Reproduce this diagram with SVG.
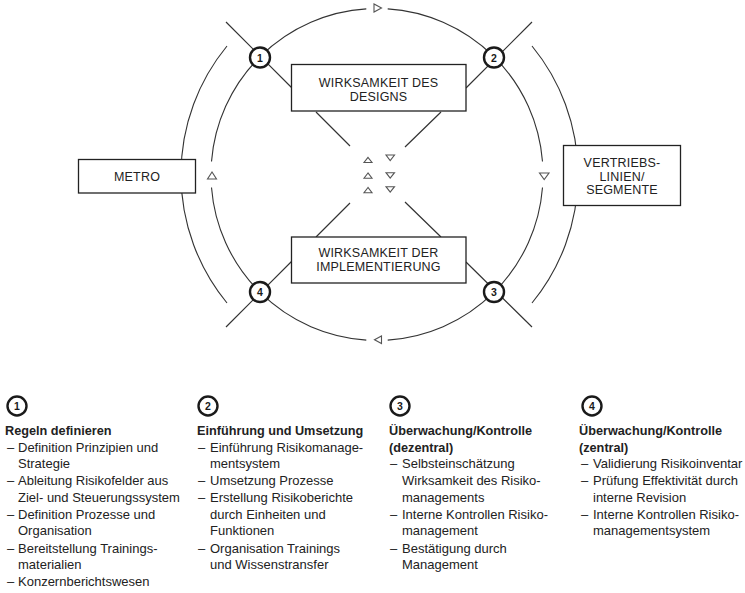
<svg xmlns="http://www.w3.org/2000/svg" width="745" height="593" viewBox="0 0 745 593">
<style>
.arc{fill:none;stroke:#333;stroke-width:1.1}
.ln{fill:none;stroke:#333;stroke-width:1.2}
.tri{fill:#fff;stroke:#555;stroke-width:1.1;stroke-linejoin:miter}
.box{fill:#fff;stroke:#222;stroke-width:1.3}
.num{fill:#fff;stroke:#1a1a1a;stroke-width:2.4}
.nt{font-family:"Liberation Sans",Arial,sans-serif;font-size:10.5px;font-weight:bold;fill:#1a1a1a;text-anchor:middle}
.bt{font-family:"Liberation Sans",Arial,sans-serif;font-size:12.5px;fill:#222;text-anchor:middle;letter-spacing:0.2px}
.lg{font-family:"Liberation Sans",Arial,sans-serif;font-size:13px;fill:#222}
.lh{font-family:"Liberation Sans",Arial,sans-serif;font-size:12.7px;font-weight:bold;fill:#222}
</style>
<rect width="745" height="593" fill="#fff"/>
<g id="connectors">
<path class="arc" d="M387.7,8.85 A166,166 0 0 1 542.5,161.5"/>
<path class="arc" d="M542.5,187.5 A166,166 0 0 1 387.7,340.15"/>
<path class="arc" d="M366.3,340.15 A166,166 0 0 1 211.5,187.5"/>
<path class="arc" d="M211.5,161.5 A166,166 0 0 1 366.3,8.85"/>
<path class="arc" d="M227,303 A202.5,202.5 0 0 1 227,46"/>
<path class="arc" d="M532,46 A202.5,202.5 0 0 1 532,303"/>
<path class="ln" d="M226,22 L292,88 M316,112 L350,146 M350,203 L316,237 M292,261 L226,327"/>
<path class="ln" d="M532,22 L466,88 M441,112 L405,147 M405,202 L441,237 M466,262 L532,327"/>
<polygon class="tri" points="374,4 374,12 381.5,8"/>
<polygon class="tri" points="539.5,173 549,173 544.2,179.5"/>
<polygon class="tri" points="374.5,339.7 381.5,336 381.5,343.5"/>
<polygon class="tri" points="212,172 207.5,179 216.5,179"/>
<polygon class="tri" points="368,157.3 364,162.5 372,162.5"/>
<polygon class="tri" points="368,173 364,178.2 372,178.2"/>
<polygon class="tri" points="368,187.5 364,192.7 372,192.7"/>
<polygon class="tri" points="386,155 394.5,155 390.2,160.5"/>
<polygon class="tri" points="386,172.7 394.5,172.7 390.2,178.2"/>
<polygon class="tri" points="386,186.7 394.5,186.7 390.2,192.2"/>
</g>
<g id="node-design">
<rect class="box" x="291.5" y="64.5" width="174.5" height="46.5"/>
<text class="bt" x="378.5" y="86.5">WIRKSAMKEIT DES</text>
<text class="bt" x="378.5" y="100.5">DESIGNS</text>
</g>
<g id="node-implementierung">
<rect class="box" x="291.5" y="237" width="174.5" height="46"/>
<text class="bt" x="378.5" y="256.5">WIRKSAMKEIT DER</text>
<text class="bt" x="378.5" y="270.5">IMPLEMENTIERUNG</text>
</g>
<g id="node-metro">
<rect class="box" x="78.5" y="159.5" width="117" height="33.5"/>
<text class="bt" x="137" y="180.5">METRO</text>
</g>
<g id="node-vertrieb">
<rect class="box" x="563.5" y="145.5" width="117" height="60"/>
<text class="bt" x="622" y="167">VERTRIEBS-</text>
<text class="bt" x="622" y="180.5">LINIEN/</text>
<text class="bt" x="622" y="194">SEGMENTE</text>
</g>
<g id="node-1"><circle class="num" cx="260" cy="57.5" r="10"/><text class="nt" x="260" y="61.5">1</text></g>
<g id="node-2"><circle class="num" cx="494" cy="57.5" r="10"/><text class="nt" x="494" y="61.5">2</text></g>
<g id="node-3"><circle class="num" cx="494" cy="292" r="10"/><text class="nt" x="494" y="296">3</text></g>
<g id="node-4"><circle class="num" cx="260" cy="292" r="10"/><text class="nt" x="260" y="296">4</text></g>
<g id="legend-1">
<circle class="num" cx="17" cy="406" r="9.5" stroke-width="2"/><text class="nt" x="17" y="410">1</text>
<text class="lh" x="5" y="434.5">Regeln definieren</text>
<text class="lg" x="7" y="451.5">–</text><text class="lg" x="18" y="451.5">Definition Prinzipien und</text>
<text class="lg" x="18" y="468">Strategie</text>
<text class="lg" x="7" y="485">–</text><text class="lg" x="18" y="485">Ableitung Risikofelder aus</text>
<text class="lg" x="18" y="501.8">Ziel- und Steuerungssystem</text>
<text class="lg" x="7" y="518.5">–</text><text class="lg" x="18" y="518.5">Definition Prozesse und</text>
<text class="lg" x="18" y="535.3">Organisation</text>
<text class="lg" x="7" y="552.5">–</text><text class="lg" x="18" y="552.5">Bereitstellung Trainings-</text>
<text class="lg" x="18" y="569">materialien</text>
<text class="lg" x="7" y="586">–</text><text class="lg" x="18" y="586">Konzernberichtswesen</text>
</g>
<g id="legend-2">
<circle class="num" cx="208" cy="406" r="9.5" stroke-width="2"/><text class="nt" x="208" y="410">2</text>
<text class="lh" x="197" y="434.5">Einführung und Umsetzung</text>
<text class="lg" x="198" y="451.5">–</text><text class="lg" x="210" y="451.5">Einführung Risikomanage-</text>
<text class="lg" x="210" y="468">mentsystem</text>
<text class="lg" x="198" y="485">–</text><text class="lg" x="210" y="485">Umsetzung Prozesse</text>
<text class="lg" x="198" y="501.8">–</text><text class="lg" x="210" y="501.8">Erstellung Risikoberichte</text>
<text class="lg" x="210" y="518.5">durch Einheiten und</text>
<text class="lg" x="210" y="535.3">Funktionen</text>
<text class="lg" x="198" y="552.5">–</text><text class="lg" x="210" y="552.5">Organisation Trainings</text>
<text class="lg" x="210" y="569">und Wissenstransfer</text>
</g>
<g id="legend-3">
<circle class="num" cx="400" cy="406" r="9.5" stroke-width="2"/><text class="nt" x="400" y="410">3</text>
<text class="lh" x="389" y="434.5">Überwachung/Kontrolle</text>
<text class="lh" x="389" y="451.5">(dezentral)</text>
<text class="lg" x="390" y="468">–</text><text class="lg" x="402" y="468">Selbsteinschätzung</text>
<text class="lg" x="402" y="485">Wirksamkeit des Risiko-</text>
<text class="lg" x="402" y="501.8">managements</text>
<text class="lg" x="390" y="518.5">–</text><text class="lg" x="402" y="518.5">Interne Kontrollen Risiko-</text>
<text class="lg" x="402" y="535.3">management</text>
<text class="lg" x="390" y="552.5">–</text><text class="lg" x="402" y="552.5">Bestätigung durch</text>
<text class="lg" x="402" y="569">Management</text>
</g>
<g id="legend-4">
<circle class="num" cx="592" cy="406" r="9.5" stroke-width="2"/><text class="nt" x="592" y="410">4</text>
<text class="lh" x="579" y="434.5">Überwachung/Kontrolle</text>
<text class="lh" x="579" y="451.5">(zentral)</text>
<text class="lg" x="581" y="468">–</text><text class="lg" x="593" y="468">Validierung Risikoinventar</text>
<text class="lg" x="581" y="485">–</text><text class="lg" x="593" y="485">Prüfung Effektivität durch</text>
<text class="lg" x="593" y="501.8">interne Revision</text>
<text class="lg" x="581" y="518.5">–</text><text class="lg" x="593" y="518.5">Interne Kontrollen Risiko-</text>
<text class="lg" x="593" y="535.3">managementsystem</text>
</g>
</svg>
